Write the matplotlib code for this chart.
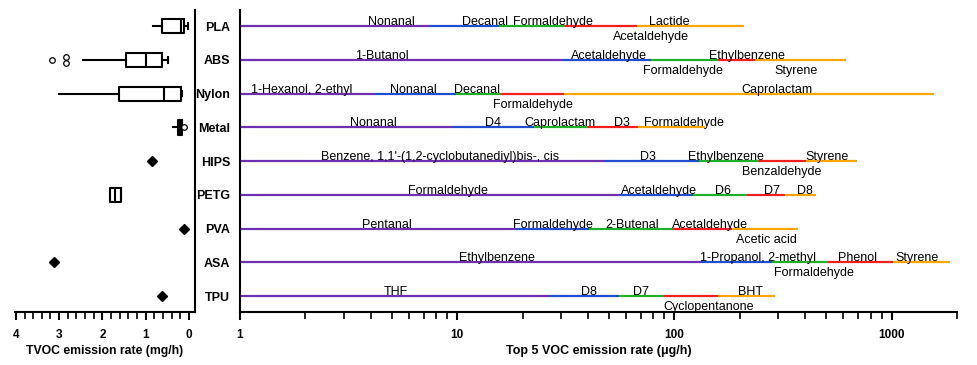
import matplotlib
matplotlib.use("Agg")
import matplotlib.pyplot as plt
from matplotlib.ticker import MultipleLocator, LogLocator, NullFormatter, FixedLocator
import numpy as np

plt.rcParams['font.family'] = ['Liberation Sans', 'DejaVu Sans']

# ---------------- data ----------------
materials = ["PLA", "ABS", "Nylon", "Metal", "HIPS", "PETG", "PVA", "ASA", "TPU"]

# Top-5 VOC names per material (in stacking order)
voc_PLA = ["Nonanal", "Decanal", "Formaldehyde", "Acetaldehyde", "Lactide"]
voc_ABS = ["1-Butanol", "Acetaldehyde", "Formaldehyde", "Ethylbenzene", "Styrene"]
voc_Nylon = ["1-Hexanol, 2-ethyl", "Nonanal", "Decanal", "Formaldehyde", "Caprolactam"]
voc_Metal = ["Nonanal", "D4", "Caprolactam", "D3", "Formaldehyde"]
voc_HIPS = ["Benzene, 1,1'-(1,2-cyclobutanediyl)bis-, cis", "D3", "Ethylbenzene", "Benzaldehyde", "Styrene"]
voc_PETG = ["Formaldehyde", "Acetaldehyde", "D6", "D7", "D8"]
voc_PVA = ["Pentanal", "Formaldehyde", "2-Butenal", "Acetaldehyde", "Acetic acid"]
voc_ASA = ["Ethylbenzene", "1-Propanol, 2-methyl", "Formaldehyde", "Phenol", "Styrene"]
voc_TPU = ["THF", "D8", "D7", "Cyclopentanone", "BHT"]

# cumulative emission (ug/h) at the end of each VOC segment
cum_PLA = [7.5, 15.5, 31.4, 67, 209]
cum_ABS = [30.8, 78, 158, 236, 618]
cum_Nylon = [4.2, 9.9, 15.9, 31, 1560]
cum_Metal = [9.6, 22.6, 40, 68, 138]
cum_HIPS = [48, 130, 246, 405, 690]
cum_PETG = [56, 122, 215, 323, 449]
cum_PVA = [18.9, 40.5, 98, 185, 372]
cum_ASA = [133, 282, 510, 1020, 1850]
cum_TPU = [26.8, 55.6, 89.7, 159, 290]

# TVOC emission rate (mg/h) box statistics
tvoc_whislo = [0.02, 0.49, 0.17, 0.15, None, None, None, None, None]
tvoc_q1 = [0.11, 0.62, 0.18, 0.15, None, 1.57, None, None, None]
tvoc_med = [0.18, 0.99, 0.58, 0.20, 0.85, 1.71, 0.12, 3.12, 0.63]
tvoc_q3 = [0.62, 1.46, 1.61, 0.25, None, 1.83, None, None, None]
tvoc_whishi = [0.83, 2.45, 3.0, 0.38, None, None, None, None, None]
tvoc_fliers = [[], [3.17, 2.85, 2.85], [], [0.11], [], [], [], [], []]

# ---------------- layout (label placement) ----------------
seg_colors = ["#7030B0", "#1F4FD0", "#1FB02A", "#F51E1E", "#FFA500"]
label_x = {
    "PLA": [5.0, 13.4, 27.6, 78, 94.5],
    "ABS": [4.5, 50, 110, 216, 363],
    "Nylon": [1.93, 6.26, 12.3, 22.3, 297],
    "Metal": [4.1, 14.6, 29.7, 57.4, 111],
    "HIPS": [8.3, 75.6, 173, 313, 504],
    "PETG": [9.07, 85, 167, 281, 399],
    "PVA": [4.75, 27.6, 63.8, 146, 264],
    "ASA": [15.3, 243, 440, 700, 1309],
    "TPU": [5.23, 40.4, 70.2, 144, 225],
}
label_below = {
    "PLA": [0, 0, 0, 1, 0],
    "ABS": [0, 0, 1, 0, 1],
    "Nylon": [0, 0, 0, 1, 0],
    "Metal": [0, 0, 0, 0, 0],
    "HIPS": [0, 0, 0, 1, 0],
    "PETG": [0, 0, 0, 0, 0],
    "PVA": [0, 0, 0, 0, 1],
    "ASA": [0, 0, 1, 0, 0],
    "TPU": [0, 0, 0, 1, 0],
}
vocs = dict(PLA=voc_PLA, ABS=voc_ABS, Nylon=voc_Nylon, Metal=voc_Metal, HIPS=voc_HIPS,
            PETG=voc_PETG, PVA=voc_PVA, ASA=voc_ASA, TPU=voc_TPU)
cums = dict(PLA=cum_PLA, ABS=cum_ABS, Nylon=cum_Nylon, Metal=cum_Metal, HIPS=cum_HIPS,
            PETG=cum_PETG, PVA=cum_PVA, ASA=cum_ASA, TPU=cum_TPU)

W, H = 977, 365
fig = plt.figure(figsize=(W / 100, H / 100), dpi=100)

bottom = (H - 312) / H
height = (312 - 10) / H
axL = fig.add_axes([15 / W, bottom, 180 / W, height])
axR = fig.add_axes([240 / W, bottom, 717 / W, height])

ypos = np.arange(len(materials))
ylim = (len(materials) - 1 + 0.47, -0.48)

# ---------------- left panel ----------------
stats = []
box_rows = []
for i, m in enumerate(materials):
    if tvoc_q1[i] is not None:
        d = dict(med=tvoc_med[i], q1=tvoc_q1[i], q3=tvoc_q3[i],
                 whislo=tvoc_whislo[i] if tvoc_whislo[i] is not None else tvoc_q1[i],
                 whishi=tvoc_whishi[i] if tvoc_whishi[i] is not None else tvoc_q3[i],
                 fliers=[])
        stats.append(d)
        box_rows.append(i)
    else:
        axL.plot(tvoc_med[i], i, marker="D", ms=5, color="black", ls="none")

bp = axL.bxp(stats, positions=box_rows, vert=False, widths=0.42, showfliers=False,
             boxprops=dict(color="black", lw=1.5),
             medianprops=dict(color="black", lw=1.5),
             whiskerprops=dict(color="black", lw=1.5),
             capprops=dict(color="black", lw=1.5), capwidths=0.16, manage_ticks=False)
# only the low-end caps are visible in the reference
for j, cap in enumerate(bp["caps"]):
    if j % 2 == 1:
        cap.set_visible(False)
for i, fl in enumerate(tvoc_fliers):
    if not fl:
        continue
    vals = np.array(fl)
    offs = np.zeros(len(vals))
    for k in range(1, len(vals)):
        if abs(vals[k] - vals[k - 1]) < 1e-9:
            offs[k - 1] = -0.08
            offs[k] = 0.08
    axL.plot(vals, i + offs, ls="none", marker="o", ms=4, mfc="white", mec="black", mew=0.9)

axL.set_xlim(4.02, -0.14)
axL.set_ylim(*ylim)
axL.xaxis.set_major_locator(FixedLocator([4, 3, 2, 1, 0]))
axL.xaxis.set_minor_locator(MultipleLocator(0.2))
axL.set_yticks([])
for s in ["top", "left"]:
    axL.spines[s].set_visible(False)
for s in ["right", "bottom"]:
    axL.spines[s].set_linewidth(1.5)
axL.tick_params(axis="x", which="major", length=6, width=1.5, labelsize=8.5, pad=6)
axL.tick_params(axis="x", which="minor", length=5, width=1.2)
for t in axL.get_xticklabels():
    t.set_fontweight("bold")
axL.set_xlabel("TVOC emission rate (mg/h)", fontsize=8.8, fontweight="bold", labelpad=3)

# ---------------- right panel ----------------
axR.set_xscale("log")
axR.set_xlim(1, 2000)
axR.set_ylim(*ylim)
for i, m in enumerate(materials):
    ends = cums[m]
    starts = [1] + ends[:-1]
    for k in range(5):
        axR.hlines(i, starts[k], ends[k], color=seg_colors[k], lw=1.6)
    for k in range(5):
        if label_below[m][k]:
            axR.annotate(vocs[m][k], (label_x[m][k], i), xytext=(0, -3.5),
                         textcoords="offset points", ha="center", va="top", fontsize=9)
        else:
            axR.annotate(vocs[m][k], (label_x[m][k], i), xytext=(0, 0.8),
                         textcoords="offset points", ha="center", va="baseline", fontsize=9)

axR.set_yticks(ypos)
axR.set_yticklabels(materials, fontsize=9, fontweight="bold")
axR.tick_params(axis="y", length=0, pad=7)
axR.xaxis.set_minor_locator(LogLocator(base=10, subs=np.arange(2, 10), numticks=20))
axR.xaxis.set_minor_formatter(NullFormatter())
axR.set_xticks([1, 10, 100, 1000])
axR.set_xticklabels(["1", "10", "100", "1000"], fontweight="bold", fontsize=8.5)
axR.tick_params(axis="x", which="major", length=6, width=1.5, pad=6)
axR.tick_params(axis="x", which="minor", length=5, width=1.2)
for s in ["top", "right"]:
    axR.spines[s].set_visible(False)
for s in ["left", "bottom"]:
    axR.spines[s].set_linewidth(1.5)
axR.set_xlabel("Top 5 VOC emission rate (\u03bcg/h)", fontsize=9, fontweight="bold", labelpad=3)

fig.savefig("out.png", dpi=100)
